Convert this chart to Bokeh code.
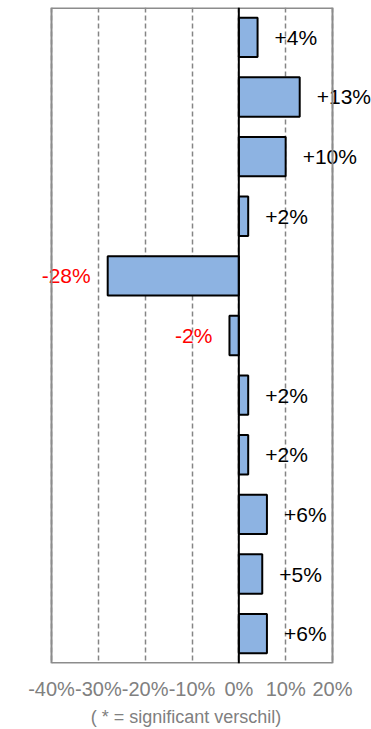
from bokeh.plotting import figure
from bokeh.models import ColumnDataSource, Range1d, FixedTicker, Span, CustomJSTickFormatter
from bokeh.core.properties import value
from bokeh.embed import file_html
from bokeh.resources import INLINE

# change per row, top to bottom (percent)
changes = [4, 13, 10, 2, -28, -2, 2, 2, 6, 5, 6]
change_labels = ["+4%", "+13%", "+10%", "+2%", "-28%", "-2%", "+2%", "+2%", "+6%", "+5%", "+6%"]
x_ticks = [-40, -30, -20, -10, 0, 10, 20]
footnote = "( * = significant verschil)"

W, H = 371, 729
# boxed chart area inside the full-width frame (pixels)
box_left, box_right = 51, 332
units_per_px = (x_ticks[-1] - x_ticks[0]) / (box_right - box_left)
x_start = x_ticks[0] - box_left * units_per_px
x_end = x_ticks[-1] + (W - box_right) * units_per_px

rows = list(range(len(changes)))
src = ColumnDataSource(dict(
    y=rows,
    v=changes,
    zero=[0] * len(changes),
    lab=change_labels,
    col=["#000000" if c >= 0 else "#FF0000" for c in changes],
    align=["left" if c >= 0 else "right" for c in changes],
    off=[17 if c >= 0 else -17 for c in changes],
))

y_top, y_bottom = -0.5, len(changes) - 0.5
p = figure(width=W, height=H, output_backend="svg", toolbar_location=None,
           x_range=Range1d(x_start, x_end), y_range=Range1d(y_bottom, y_top),
           min_border_left=0, min_border_right=0, min_border_top=7, min_border_bottom=66)
p.outline_line_color = None
p.background_fill_color = "white"
p.border_fill_color = "white"

p.xaxis.ticker = FixedTicker(ticks=x_ticks)
p.xgrid.ticker = FixedTicker(ticks=x_ticks)
p.xgrid.grid_line_color = "#858585"
p.xgrid.grid_line_width = 1.5
p.xgrid.grid_line_dash = "5 3"
p.ygrid.grid_line_color = None
p.yaxis.visible = False

# box around the chart area
for xb in (x_ticks[0], x_ticks[-1]):
    p.add_layout(Span(location=xb, dimension="height", line_color="#8C8C8C", line_width=2))
p.segment(x0=[x_ticks[0], x_ticks[0]], x1=[x_ticks[-1], x_ticks[-1]],
          y0=[y_top, y_bottom], y1=[y_top, y_bottom], line_color="#8C8C8C", line_width=3)

p.hbar(y="y", left="zero", right="v", height=0.66, source=src,
       fill_color="#8DB3E2", line_color="#000000", line_width=2)

p.add_layout(Span(location=0, dimension="height", line_color="#000000", line_width=2))

p.text(x="v", y="y", text="lab", source=src, text_color="col", text_align="align",
       x_offset="off", text_baseline="middle", text_font=value("Liberation Sans"),
       text_font_size="21px")

p.xaxis.formatter = CustomJSTickFormatter(code="return tick + '%';")
p.xaxis.axis_line_color = None
p.xaxis.major_tick_line_color = None
p.xaxis.minor_tick_line_color = None
p.xaxis.major_label_text_font = "Liberation Sans"
p.xaxis.major_label_text_font_size = "20px"
p.xaxis.major_label_text_color = "#808080"
p.xaxis.major_label_standoff = 8
p.xaxis.axis_label = footnote
p.xaxis.axis_label_text_font = "Liberation Sans"
p.xaxis.axis_label_text_font_style = "normal"
p.xaxis.axis_label_text_font_size = "18px"
p.xaxis.axis_label_text_color = "#808080"
p.xaxis.axis_label_standoff = 4

open("out.html", "w").write(file_html(p, INLINE))
